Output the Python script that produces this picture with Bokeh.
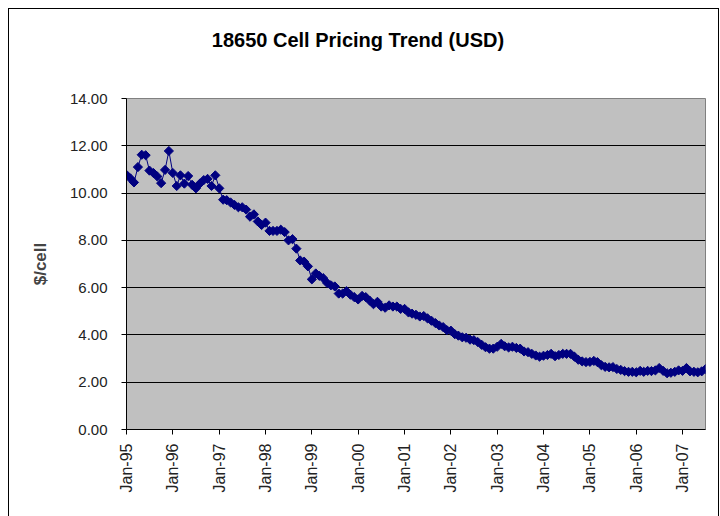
import numpy as np
import pandas as pd
from bokeh.plotting import figure
from bokeh.layouts import column
from bokeh.models import (FixedTicker, NumeralTickFormatter, DatetimeTickFormatter,
                          Range1d, ColumnDataSource, Div)
from bokeh.embed import file_html
from bokeh.resources import INLINE

# ---- data (monthly, Jan-95 .. Jul-07) ----
start_month = "1995-01-01"
price = [
    10.77, 10.62, 10.45, 11.10, 11.62, 11.60, 10.95, 10.85, 10.70, 10.42, 10.98, 11.78,
    10.85, 10.30, 10.75, 10.40, 10.72, 10.35, 10.20, 10.40, 10.55, 10.60, 10.30, 10.75,
    10.20, 9.72, 9.70, 9.60, 9.50, 9.40, 9.40, 9.30, 9.00, 9.10, 8.80, 8.65,
    8.75, 8.40, 8.40, 8.40, 8.45, 8.35, 8.00, 8.05, 7.65, 7.15, 7.10, 6.90,
    6.35, 6.60, 6.50, 6.40, 6.20, 6.10, 6.05, 5.75, 5.75, 5.85, 5.70, 5.60,
    5.50, 5.65, 5.60, 5.45, 5.30, 5.40, 5.20, 5.15, 5.25, 5.20, 5.20, 5.10,
    5.10, 4.95, 4.90, 4.85, 4.78, 4.80, 4.70, 4.60, 4.50, 4.40, 4.33, 4.20,
    4.18, 4.03, 3.97, 3.90, 3.88, 3.80, 3.78, 3.70, 3.58, 3.48, 3.42, 3.42,
    3.50, 3.62, 3.52, 3.47, 3.50, 3.45, 3.42, 3.30, 3.27, 3.20, 3.13, 3.08,
    3.12, 3.15, 3.20, 3.10, 3.15, 3.20, 3.20, 3.20, 3.08, 2.95, 2.88, 2.85,
    2.86, 2.90, 2.85, 2.72, 2.65, 2.63, 2.64, 2.56, 2.52, 2.47, 2.44, 2.44,
    2.42, 2.48, 2.44, 2.48, 2.47, 2.50, 2.60, 2.48, 2.38, 2.40, 2.44, 2.50,
    2.48, 2.60, 2.46, 2.44, 2.42, 2.46, 2.55,
]
tick_years = list(range(1995, 2008))
y_ticks = [0, 2, 4, 6, 8, 10, 12, 14]
title_text = "18650 Cell Pricing Trend (USD)"
y_label = "$/cell"

dates = pd.date_range(start_month, periods=len(price), freq="MS")
src = ColumnDataSource(dict(x=dates, y=price))

def ms(ts):
    return pd.Timestamp(ts).value / 1e6

title_div = Div(text=f"<b>{title_text}</b>", width=698, height=62, margin=0,
                styles={"font-family": "'Liberation Sans', Arial, sans-serif",
                        "font-size": "20px", "line-height": "62px",
                        "text-align": "center", "color": "black"})

p = figure(width=709, height=445, x_axis_type="datetime",
           output_backend="svg", toolbar_location=None,
           x_range=Range1d(ms(dates[0]), ms(dates[-1])),
           y_range=Range1d(0, 14),
           min_border_left=117, min_border_right=13,
           min_border_top=27, min_border_bottom=87)

p.background_fill_color = "#C0C0C0"
p.border_fill_color = "white"
p.outline_line_color = "#808080"
p.outline_line_width = 1

p.xgrid.visible = False
p.ygrid.grid_line_color = "black"
p.ygrid.grid_line_width = 1
p.ygrid.ticker = FixedTicker(ticks=y_ticks)

p.yaxis.ticker = FixedTicker(ticks=y_ticks)
p.yaxis.formatter = NumeralTickFormatter(format="0.00")
p.yaxis.axis_label = y_label
p.yaxis.axis_label_text_font = "Liberation Sans"
p.yaxis.axis_label_text_font_size = "17px"
p.yaxis.axis_label_text_font_style = "bold"
p.yaxis.axis_label_standoff = 17

p.xaxis.ticker = FixedTicker(ticks=[ms(f"{yr}-01-01") for yr in tick_years])
fmt = "%b-%y"
p.xaxis.formatter = DatetimeTickFormatter(years=fmt, months=fmt, days=fmt, hours=fmt,
                                          minutes=fmt, seconds=fmt, milliseconds=fmt,
                                          microseconds=fmt, hourmin=fmt, minsec=fmt)
p.xaxis.major_label_orientation = np.pi / 2

for ax in (p.xaxis, p.yaxis):
    ax.axis_line_color = "black"
    ax.major_tick_line_color = "black"
    ax.major_tick_out = 5
    ax.major_tick_in = 0
    ax.minor_tick_line_color = None
    ax.major_label_text_font = "Liberation Sans"
    ax.major_label_text_font_size = "15px"
    ax.major_label_text_color = "#222222"
p.yaxis.major_label_standoff = 14
p.xaxis.major_label_text_font_size = "16px"
p.xaxis.major_label_standoff = 9

p.line("x", "y", source=src, line_color="#000080", line_width=1)
p.scatter("x", "y", source=src, marker="square", angle=np.pi / 4, size=6.5,
          fill_color="#000080", line_color="#000080")

layout = column(title_div, p, spacing=0,
                styles={"margin-left": "8px", "margin-top": "8px",
                        "border-top": "1px solid #000", "border-left": "1px solid #000",
                        "border-right": "1px solid #000", "background": "white"})

open("out.html", "w").write(file_html(layout, INLINE))
